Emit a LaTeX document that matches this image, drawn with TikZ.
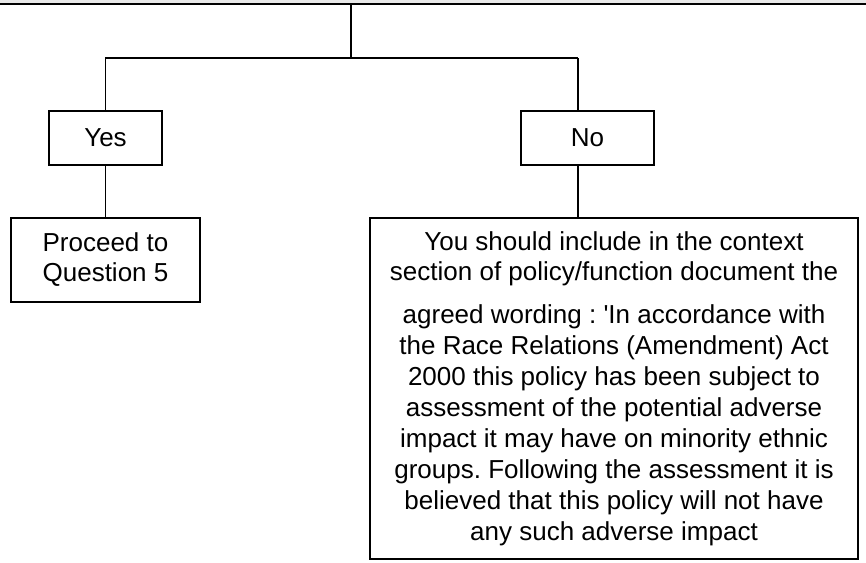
\documentclass[tikz,border=0pt]{standalone}
\usepackage{fontspec}
\setmainfont{Liberation Sans}
\frenchspacing
\begin{document}
\begin{tikzpicture}[x=1pt, y=-1pt, line width=1.3pt,
	box/.style={draw, rectangle, inner sep=0pt, align=center, font=\fontsize{26}{31}\selectfont}]
	\useasboundingbox (0,0) rectangle (866,562);
	\fill[gray!18] (0,0) rectangle (866,3);
	\coordinate (L)at(0, 4);
	\coordinate (R)at(866, 4);
	\coordinate (top)at(351, 4);
	\coordinate (split)at(351, 58);
	\coordinate (nosplit)at(578, 58);
	\node[box, minimum width=113, minimum height=54] (yes)at(105.5, 138) {Yes};
	\node[box, minimum width=133, minimum height=54] (no)at(587.5, 138) {No};
	\node[box, minimum width=189, minimum height=84] (proceed)at(105.5, 260) {Proceed to\\[-1pt]Question 5};
	\node[box, minimum width=488, minimum height=341] (wording)at(614, 388.5) {You should include in the context\\[-1pt]section of policy/function document the\\[12pt]agreed wording : \textquotesingle In accordance with\\the Race Relations (Amendment) Act\\2000 this policy has been subject to\\assessment of the potential adverse\\impact it may have on minority ethnic\\groups. Following the assessment it is\\believed that this policy will not have\\any such adverse impact};
	\draw (L) -- (R);
	\draw (top) -- (split);
	\draw (yes.north) |- (nosplit);
	\draw (nosplit) -- (nosplit |- no.north);
	\draw (yes) -- (proceed);
	\draw (nosplit |- no.south) -- (nosplit |- wording.north);
\end{tikzpicture}
\end{document}
